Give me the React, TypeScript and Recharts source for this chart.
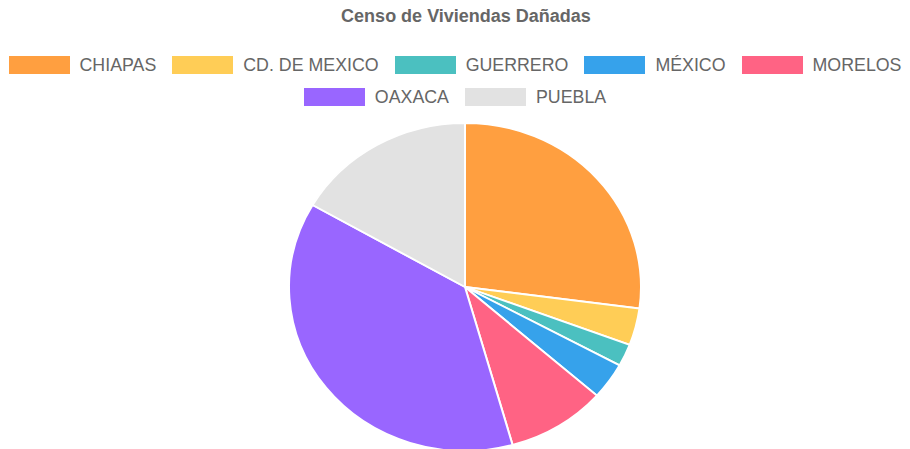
import { Cell, Pie, PieChart } from 'recharts'

const TITLE = 'Censo de Viviendas Dañadas'
const STATES = ['CHIAPAS', 'CD. DE MEXICO', 'GUERRERO', 'MÉXICO', 'MORELOS', 'OAXACA', 'PUEBLA']
const HOMES = [46000, 6200, 3700, 6100, 15500, 64000, 28300]
const COLORS = ['#ff9f40', '#ffcd56', '#4bc0c0', '#36a2eb', '#ff6384', '#9966ff', '#e2e2e2']
const FIRST_ROW = 5

const data = STATES.map((name, i) => ({ name, value: HOMES[i] }))

const FONT = '"Liberation Sans", Arial, Helvetica, sans-serif'

function LegendRows() {
  const items = STATES.map((name, i) => ({ name, color: COLORS[i] }))
  const rows = [items.slice(0, FIRST_ROW), items.slice(FIRST_ROW)]
  return (
    <div
      style={{
        position: 'absolute',
        left: 0,
        top: 49,
        width: 910,
        fontFamily: FONT,
        fontSize: 17.8,
        color: '#666',
        zIndex: 1,
      }}
    >
      {rows.map((row, r) => (
        <div
          key={r}
          style={{ display: 'flex', justifyContent: 'center', alignItems: 'center', gap: 16, height: 32 }}
        >
          {row.map((it) => (
            <div key={it.name} style={{ display: 'flex', alignItems: 'center' }}>
              <span
                style={{ display: 'inline-block', width: 61, height: 18, marginRight: 10, background: it.color }}
              />
              <span>{it.name}</span>
            </div>
          ))}
        </div>
      ))}
    </div>
  )
}

export default function App() {
  return (
    <div style={{ position: 'absolute', left: 0, top: 0, width: 910, height: 449, background: '#fff' }}>
      {/* the reference pie is squashed vertically a little */}
      <style>{`.recharts-pie { transform: scaleY(0.932); transform-origin: 465px 287px; }`}</style>
      <div
        style={{
          position: 'absolute',
          left: 0,
          top: 6,
          width: 932,
          textAlign: 'center',
          fontFamily: FONT,
          fontWeight: 'bold',
          fontSize: 18,
          color: '#666',
          zIndex: 1,
        }}
      >
        {TITLE}
      </div>
      <LegendRows />
      <PieChart width={910} height={449} margin={{ top: 0, right: 0, bottom: 0, left: 0 }}>
        <Pie
          data={data}
          dataKey="value"
          nameKey="name"
          cx={465}
          cy={287}
          outerRadius={176}
          startAngle={90}
          endAngle={-270}
          stroke="#fff"
          strokeWidth={2}
          isAnimationActive={false}
        >
          {data.map((_, i) => (
            <Cell key={i} fill={COLORS[i]} />
          ))}
        </Pie>
      </PieChart>
    </div>
  )
}
